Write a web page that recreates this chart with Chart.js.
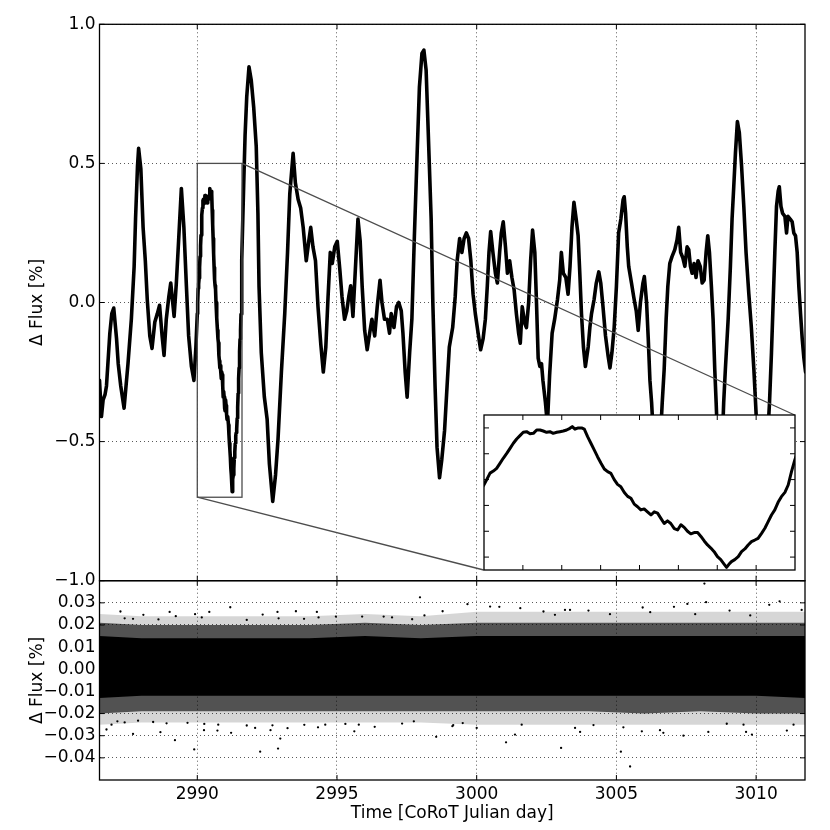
<!DOCTYPE html>
<html>
<head>
<meta charset="utf-8">
<script src="https://cdn.jsdelivr.net/npm/chart.js@4.4.1/dist/chart.umd.min.js"></script>
<style>
    body { margin: 0; background: #fff; }
    #fig { position: relative; width: 830px; height: 830px; }
    .panel { position: absolute; }
</style>
</head>
<body>
<div id="fig">
    <div class="panel" style="left:0;top:0;width:830px;height:600px"><canvas id="flux-chart"></canvas></div>
    <div class="panel" style="left:0;top:560px;width:830px;height:270px"><canvas id="resid-chart"></canvas></div>
    <div class="panel" id="inset-box"><canvas id="inset-chart"></canvas></div>
</div>
<script>
// light curve (and the inset for 2990.0 - 2991.6)
const lcDays = [
    2986.50, 2986.57, 2986.63, 2986.70, 2986.75, 2986.87, 2986.94, 2987.01, 2987.11, 2987.17,
    2987.26, 2987.38, 2987.52, 2987.64, 2987.74, 2987.79, 2987.86, 2987.90, 2987.98, 2988.06,
    2988.14, 2988.21, 2988.30, 2988.38, 2988.48, 2988.57, 2988.65, 2988.74, 2988.81, 2988.89,
    2988.98, 2989.05, 2989.17, 2989.25, 2989.33, 2989.43, 2989.52, 2989.61, 2989.69, 2989.79,
    2989.88, 2989.95,
    2990.000, 2990.014, 2990.031, 2990.048, 2990.065, 2990.082, 2990.099, 2990.117, 2990.134, 2990.151,
    2990.168, 2990.185, 2990.202, 2990.219, 2990.237, 2990.254, 2990.271, 2990.288, 2990.305, 2990.322,
    2990.339, 2990.356, 2990.374, 2990.391, 2990.408, 2990.425, 2990.442, 2990.454, 2990.468, 2990.485,
    2990.502, 2990.516, 2990.533, 2990.550, 2990.567, 2990.584, 2990.602, 2990.619, 2990.636, 2990.653,
    2990.670, 2990.687, 2990.704, 2990.722, 2990.739, 2990.756, 2990.773, 2990.790, 2990.807, 2990.824,
    2990.841, 2990.859, 2990.876, 2990.893, 2990.910, 2990.927, 2990.944, 2990.961, 2990.979, 2990.996,
    2991.013, 2991.030, 2991.047, 2991.064, 2991.081, 2991.099, 2991.116, 2991.133, 2991.150, 2991.167,
    2991.184, 2991.201, 2991.218, 2991.236, 2991.248, 2991.260, 2991.273, 2991.290, 2991.308, 2991.325,
    2991.342, 2991.359, 2991.376, 2991.393, 2991.410, 2991.428, 2991.445, 2991.462, 2991.479, 2991.496,
    2991.513, 2991.530, 2991.548, 2991.565, 2991.582, 2991.599,
    2991.66, 2991.71, 2991.77, 2991.85, 2991.93, 2992.02, 2992.11, 2992.17, 2992.21, 2992.29,
    2992.40, 2992.50, 2992.58, 2992.70, 2992.80, 2992.89, 2993.01, 2993.13, 2993.23, 2993.31,
    2993.43, 2993.51, 2993.61, 2993.70, 2993.79, 2993.90, 2993.99, 2994.06, 2994.14, 2994.23,
    2994.32, 2994.42, 2994.51, 2994.60, 2994.68, 2994.76, 2994.83, 2994.92, 2995.01, 2995.10,
    2995.18, 2995.27, 2995.35, 2995.42, 2995.49, 2995.57, 2995.65, 2995.75, 2995.83, 2995.90,
    2995.99, 2996.08, 2996.17, 2996.25, 2996.35, 2996.44, 2996.54, 2996.61, 2996.70, 2996.80,
    2996.88, 2996.94, 2997.04, 2997.13, 2997.21, 2997.30, 2997.36, 2997.44, 2997.51, 2997.60,
    2997.68, 2997.77, 2997.87, 2997.95, 2998.04, 2998.11, 2998.19, 2998.27, 2998.37, 2998.43,
    2998.51, 2998.58, 2998.67, 2998.75, 2998.85, 2998.94, 2999.02, 2999.14, 2999.23, 2999.30,
    2999.39, 2999.47, 2999.55, 2999.63, 2999.71, 2999.79, 2999.87, 2999.95, 3000.05, 3000.14,
    3000.23, 3000.31, 3000.38, 3000.44, 3000.50, 3000.58, 3000.67, 3000.74, 3000.82, 3000.88,
    3000.95, 3001.03, 3001.10, 3001.18, 3001.26, 3001.34, 3001.42, 3001.50, 3001.56, 3001.63,
    3001.72, 3001.78, 3001.86, 3001.93, 3002.00, 3002.08, 3002.14, 3002.20, 3002.26, 3002.32,
    3002.37, 3002.46, 3002.53, 3002.61, 3002.70, 3002.79, 3002.89, 3002.97, 3003.03, 3003.10,
    3003.19, 3003.27, 3003.34, 3003.41, 3003.48, 3003.56, 3003.63, 3003.69, 3003.75, 3003.82,
    3003.89, 3003.99, 3004.05, 3004.11, 3004.20, 3004.28, 3004.37, 3004.44, 3004.52, 3004.61,
    3004.70, 3004.77, 3004.84, 3004.92, 3005.00, 3005.08, 3005.16, 3005.24, 3005.28, 3005.33,
    3005.39, 3005.44, 3005.54, 3005.62, 3005.71, 3005.78, 3005.86, 3005.95, 3006.00, 3006.08,
    3006.14, 3006.20, 3006.26, 3006.36, 3006.46, 3006.56, 3006.64, 3006.71, 3006.78, 3006.84,
    3006.91, 3006.99, 3007.09, 3007.17, 3007.23, 3007.30, 3007.38, 3007.45, 3007.53, 3007.59,
    3007.65, 3007.71, 3007.78, 3007.85, 3007.92, 3008.00, 3008.07, 3008.14, 3008.21, 3008.27,
    3008.33, 3008.40, 3008.46, 3008.52, 3008.57, 3008.64, 3008.70, 3008.77, 3008.84, 3008.90,
    3009.00, 3009.08, 3009.14, 3009.20, 3009.26, 3009.33, 3009.40, 3009.48, 3009.56, 3009.64,
    3009.74, 3009.83, 3009.92, 3009.98, 3010.10, 3010.23, 3010.36, 3010.48, 3010.55, 3010.61,
    3010.67, 3010.73, 3010.79, 3010.83, 3010.89, 3010.95, 3011.03, 3011.09, 3011.14, 3011.22,
    3011.29, 3011.35, 3011.41, 3011.47, 3011.53, 3011.59, 3011.65, 3011.71, 3011.77,
];
const lcFlux = [
    -0.28, -0.41, -0.35, -0.33, -0.30, -0.11, -0.04, -0.02, -0.13, -0.22,
    -0.30, -0.38, -0.22, -0.06, 0.13, 0.30, 0.49, 0.554, 0.48, 0.27,
    0.15, 0.01, -0.12, -0.165, -0.07, -0.04, -0.01, -0.12, -0.19, -0.06,
    0.02, 0.07, -0.05, 0.07, 0.22, 0.41, 0.27, 0.06, -0.12, -0.23,
    -0.28, -0.16,
    -0.04, 0.0, 0.05, 0.066, 0.087, 0.126, 0.165, 0.203, 0.242, 0.281,
    0.314, 0.34, 0.366, 0.371, 0.355, 0.358, 0.384, 0.384, 0.376, 0.366,
    0.371, 0.358, 0.366, 0.371, 0.376, 0.384, 0.397, 0.41, 0.39, 0.40,
    0.40, 0.39, 0.332, 0.281, 0.23, 0.177, 0.126, 0.082, 0.061, 0.048,
    0.0, -0.037, -0.055, -0.10, -0.13, -0.145, -0.19, -0.21, -0.235, -0.227,
    -0.25, -0.274, -0.25, -0.26, -0.30, -0.34, -0.32, -0.34, -0.38, -0.39,
    -0.35, -0.37, -0.40, -0.42, -0.41, -0.41, -0.44, -0.475, -0.506, -0.53,
    -0.558, -0.597, -0.62, -0.656, -0.68, -0.656, -0.635, -0.62, -0.597, -0.558,
    -0.537, -0.506, -0.48, -0.468, -0.455, -0.416, -0.377, -0.326, -0.274, -0.235,
    -0.176, -0.132, -0.099, -0.042, 0.061, 0.152,
    0.42, 0.60, 0.74, 0.847, 0.80, 0.70, 0.56, 0.32, 0.057, -0.18,
    -0.34, -0.42, -0.58, -0.715, -0.62, -0.49, -0.25, -0.04, 0.18, 0.39,
    0.536, 0.43, 0.37, 0.34, 0.27, 0.15, 0.22, 0.27, 0.20, 0.15,
    -0.015, -0.15, -0.25, -0.16, 0.02, 0.18, 0.14, 0.20, 0.22, 0.12,
    0.02, -0.06, -0.03, 0.02, 0.06, -0.05, 0.105, 0.30, 0.22, 0.06,
    -0.10, -0.17, -0.11, -0.06, -0.12, -0.015, 0.08, 0.0, -0.06, -0.06,
    -0.11, -0.04, -0.09, -0.015, 0.0, -0.03, -0.11, -0.25, -0.34, -0.18,
    -0.06, 0.24, 0.54, 0.775, 0.895, 0.907, 0.835, 0.60, 0.30, 0.0,
    -0.30, -0.52, -0.63, -0.565, -0.46, -0.30, -0.16, -0.09, 0.02, 0.15,
    0.23, 0.18, 0.23, 0.25, 0.23, 0.15, 0.03, -0.04, -0.11, -0.17,
    -0.13, -0.06, 0.06, 0.18, 0.255, 0.18, 0.105, 0.07, 0.18, 0.25,
    0.29, 0.20, 0.105, 0.15, 0.09, 0.045, -0.04, -0.11, -0.146, -0.015,
    -0.075, -0.09, 0.0, 0.15, 0.26, 0.18, 0.0, -0.20, -0.23, -0.22,
    -0.28, -0.36, -0.44, -0.26, -0.11, -0.06, 0.01, 0.08, 0.18, 0.105,
    0.09, 0.03, 0.13, 0.27, 0.36, 0.30, 0.24, 0.105, -0.04, -0.16,
    -0.23, -0.16, -0.09, -0.04, 0.01, 0.07, 0.11, 0.07, -0.015, -0.12,
    -0.19, -0.235, -0.18, -0.09, 0.057, 0.25, 0.30, 0.37, 0.38, 0.32,
    0.20, 0.13, 0.07, 0.02, -0.03, -0.10, 0.0, 0.07, 0.093, 0.0,
    -0.13, -0.28, -0.36, -0.55, -0.62, -0.52, -0.36, -0.24, -0.06, 0.057,
    0.14, 0.165, 0.19, 0.225, 0.27, 0.18, 0.16, 0.13, 0.20, 0.19,
    0.13, 0.105, 0.14, 0.09, 0.15, 0.13, 0.07, 0.08, 0.18, 0.24,
    0.18, 0.057, -0.06, -0.24, -0.36, -0.55, -0.62, -0.55, -0.36, -0.24,
    -0.06, 0.13, 0.30, 0.416, 0.536, 0.65, 0.61, 0.49, 0.345, 0.18,
    0.03, -0.09, -0.24, -0.36, -0.60, -0.68, -0.58, -0.36, -0.18, 0.0,
    0.18, 0.345, 0.40, 0.416, 0.345, 0.32, 0.31, 0.25, 0.31, 0.30,
    0.29, 0.25, 0.24, 0.18, 0.057, -0.04, -0.13, -0.20, -0.25,
];

// residual band: solid core, dense fringe and sparse fringe edges
const resDays = [2986.5, 2988, 2990, 2992, 2994, 2996, 2998, 3000, 3002, 3004, 3006, 3008, 3010, 3011.75];
const coreHigh = [0.015, 0.014, 0.014, 0.014, 0.014, 0.015, 0.014, 0.015, 0.015, 0.015, 0.015, 0.015, 0.015, 0.015];
const coreLow = [-0.013, -0.012, -0.012, -0.012, -0.012, -0.012, -0.012, -0.012, -0.012, -0.012, -0.012, -0.012, -0.012, -0.013];
const midHigh = [0.021, 0.020, 0.020, 0.020, 0.020, 0.021, 0.020, 0.021, 0.021, 0.021, 0.021, 0.021, 0.021, 0.021];
const midLow = [-0.020, -0.019, -0.019, -0.019, -0.019, -0.019, -0.019, -0.019, -0.019, -0.019, -0.020, -0.019, -0.020, -0.020];
const outerHigh = [0.025, 0.024, 0.024, 0.024, 0.024, 0.025, 0.024, 0.026, 0.026, 0.026, 0.026, 0.026, 0.026, 0.026];
const outerLow = [-0.025, -0.024, -0.024, -0.024, -0.024, -0.024, -0.024, -0.025, -0.025, -0.025, -0.025, -0.025, -0.025, -0.025];

// scattered residual points outside the band
const outDays = [
    2987.25, 2988.07, 2989.01, 2989.23, 2989.92, 2990.43, 2991.18, 2992.34, 2992.87, 2993.53,
    2994.28, 2997.97, 2998.13, 2998.78, 2987.40, 2987.70, 2988.61, 2990.16, 2991.77, 2992.91,
    2993.82, 2994.34, 2994.96, 2995.90, 2996.67, 2996.97, 2997.69,
    2986.75, 2986.93, 2987.14, 2987.40, 2987.70, 2987.88, 2988.42, 2988.68, 2988.90, 2989.20,
    2989.65, 2989.89, 2990.24, 2990.25, 2990.72, 2990.75, 2991.21, 2991.77, 2992.07, 2992.25,
    2992.62, 2992.69, 2992.89, 2992.97, 2993.23, 2993.83, 2994.32, 2994.58, 2995.30, 2995.62,
    2995.78, 2996.35, 2997.33, 2997.75, 2998.55, 2999.13,
    2999.67, 3008.15, 3008.21, 3010.84, 3010.47, 3007.54, 3000.81, 3000.48, 3001.56, 3003.16,
    3003.34, 3004.00, 3005.94, 3006.21, 3007.06, 3009.05, 3011.63, 3002.39, 3002.80, 3004.77,
    3007.82, 3009.79,
    2999.16, 2999.50, 3000.00, 3001.05, 3001.37, 3001.61, 3003.02, 3003.52, 3003.70, 3004.18,
    3005.16, 3005.49, 3005.25, 3005.91, 3006.56, 3006.68, 3007.40, 3008.29, 3008.95, 3009.64,
    3009.85, 3011.10, 3011.34, 3009.55,
];
const outVals = [
    0.0261, 0.0246, 0.0259, 0.0240, 0.0249, 0.0259, 0.0280, 0.0247, 0.0259, 0.0262,
    0.0259, 0.0325, 0.0243, 0.0262, 0.0230, 0.0228, 0.0225, 0.0234, 0.0223, 0.0230,
    0.0228, 0.0234, 0.0238, 0.0238, 0.0238, 0.0234, 0.0226,
    -0.0272, -0.0250, -0.0235, -0.0240, -0.0292, -0.0232, -0.0238, -0.0284, -0.0244, -0.0320,
    -0.0242, -0.0362, -0.0275, -0.0247, -0.0277, -0.0250, -0.0287, -0.0254, -0.0265, -0.0372,
    -0.0275, -0.0253, -0.0358, -0.0313, -0.0266, -0.0251, -0.0262, -0.0250, -0.0247, -0.0280,
    -0.0250, -0.0260, -0.0245, -0.0235, -0.0305, -0.0257,
    0.0294, 0.0387, 0.0303, 0.0307, 0.0291, 0.0295, 0.0282, 0.0283, 0.0276, 0.0268,
    0.0268, 0.0265, 0.0279, 0.0258, 0.0282, 0.0265, 0.0268, 0.0261, 0.0246, 0.0249,
    0.0249, 0.0243,
    -0.0252, -0.0243, -0.0265, -0.0330, -0.0295, -0.0250, -0.0355, -0.0265, -0.0283, -0.0252,
    -0.0372, -0.0439, -0.0262, -0.0280, -0.0275, -0.0287, -0.0300, -0.0283, -0.0246, -0.0283,
    -0.0295, -0.0277, -0.0250, -0.0250,
];

const dayTicks = [2990, 2995, 3000, 3005, 3010];
const fluxTicks = [-1.0, -0.5, 0.0, 0.5, 1.0];
const residTicks = [-0.04, -0.03, -0.02, -0.01, 0.0, 0.01, 0.02, 0.03];
const zoomDays = [2990.0, 2991.6];
const zoomFlux = [-0.7, 0.5];
const insetDayTicks = [2990.2, 2990.4, 2990.6, 2990.8, 2991.0, 2991.2, 2991.4];
const insetFluxTicks = [-0.6, -0.4, -0.2, 0.0, 0.2, 0.4];

const DAY_RANGE = [2986.5, 3011.75];
const INSET = { left: 483.7, top: 415, right: 794.7, bottom: 570 };
const TICK_LEN = 5;
const GRID = { color: "rgba(0,0,0,0.65)", lineWidth: 1, drawTicks: false };
const GRID_BORDER = { display: false, dash: [1, 3] };

Chart.defaults.font.family = "'DejaVu Sans', sans-serif";
Chart.defaults.font.size = 17;
Chart.defaults.color = "#000";
Chart.defaults.animation = false;

const pts = (xs, ys) => xs.map((x, i) => ({ x: x, y: ys[i] }));
const minus = (s) => s.replace("-", "\u2212");
const fmt = (digits) => (v) => minus((Math.abs(v) < 1e-9 ? 0 : v).toFixed(digits));
const setTicks = (values) => (scale) => {
    scale.ticks = values.map((v) => ({ value: v }));
};

// black frame plus inward ticks on all four sides
function frameTicks(xt, yt) {
    return {
        id: "frameTicks",
        afterDraw(chart) {
            const { ctx, chartArea: a } = chart;
            const { x, y } = chart.scales;
            ctx.save();
            ctx.strokeStyle = "#000";
            ctx.lineWidth = 1;
            ctx.beginPath();
            xt.forEach((v) => {
                const px = x.getPixelForValue(v);
                ctx.moveTo(px, a.bottom);
                ctx.lineTo(px, a.bottom - TICK_LEN);
                ctx.moveTo(px, a.top);
                ctx.lineTo(px, a.top + TICK_LEN);
            });
            yt.forEach((v) => {
                const py = y.getPixelForValue(v);
                ctx.moveTo(a.left, py);
                ctx.lineTo(a.left + TICK_LEN, py);
                ctx.moveTo(a.right, py);
                ctx.lineTo(a.right - TICK_LEN, py);
            });
            ctx.stroke();
            ctx.lineWidth = 1.3;
            ctx.strokeRect(a.left, a.top, a.right - a.left, a.bottom - a.top);
            ctx.restore();
        },
    };
}

// rectangle round the zoomed range, joined to the inset corners
const zoomLinks = {
    id: "zoomLinks",
    afterDatasetsDraw(chart) {
        const { ctx } = chart;
        const { x, y } = chart.scales;
        const x0 = x.getPixelForValue(zoomDays[0]);
        const x1 = x.getPixelForValue(zoomDays[1]);
        const y0 = y.getPixelForValue(zoomFlux[0]);
        const y1 = y.getPixelForValue(zoomFlux[1]);
        ctx.save();
        ctx.strokeStyle = "#4d4d4d";
        ctx.lineWidth = 1.3;
        ctx.strokeRect(x0, y1, x1 - x0, y0 - y1);
        ctx.beginPath();
        ctx.moveTo(x1, y1);
        ctx.lineTo(INSET.right, INSET.top);
        ctx.moveTo(x0, y0);
        ctx.lineTo(INSET.left, INSET.bottom);
        ctx.stroke();
        ctx.restore();
    },
};

const whiteArea = {
    id: "whiteArea",
    beforeDraw(chart) {
        const { ctx, chartArea: a } = chart;
        ctx.save();
        ctx.fillStyle = "#fff";
        ctx.fillRect(a.left, a.top, a.right - a.left, a.bottom - a.top);
        ctx.restore();
    },
};

function yTitle() {
    return { display: true, text: "\u0394 Flux [%]", padding: { top: 27, bottom: 0 } };
}

new Chart(document.getElementById("flux-chart"), {
    type: "line",
    data: {
        datasets: [{
            data: pts(lcDays, lcFlux),
            borderColor: "#000",
            borderWidth: 3.6,
            borderJoinStyle: "round",
            borderCapStyle: "round",
            pointRadius: 0,
        }],
    },
    options: {
        responsive: true,
        maintainAspectRatio: false,
        layout: { padding: { top: 24.3, right: 25, bottom: 19.3, left: 0 } },
        plugins: { legend: { display: false }, tooltip: { enabled: false } },
        scales: {
            x: {
                type: "linear",
                min: DAY_RANGE[0],
                max: DAY_RANGE[1],
                afterBuildTicks: setTicks(dayTicks),
                afterFit: (s) => { s.height = 0; },
                ticks: { display: false },
                grid: GRID,
                border: GRID_BORDER,
            },
            y: {
                min: -1,
                max: 1,
                afterBuildTicks: setTicks(fluxTicks),
                afterFit: (s) => { s.width = 99.5; },
                ticks: { autoSkip: false, padding: 4, callback: fmt(1) },
                grid: GRID,
                border: GRID_BORDER,
                title: yTitle(),
            },
        },
    },
    plugins: [zoomLinks, frameTicks(dayTicks, fluxTicks)],
});

const band = (ys, fill, color) => ({
    data: pts(resDays, ys),
    borderWidth: 0,
    pointRadius: 0,
    fill: fill,
    backgroundColor: color,
});

new Chart(document.getElementById("resid-chart"), {
    type: "line",
    data: {
        datasets: [
            band(outerLow, false, "transparent"),
            band(outerHigh, "-1", "rgba(0,0,0,0.16)"),
            band(midLow, false, "transparent"),
            band(midHigh, "-1", "rgba(0,0,0,0.62)"),
            band(coreLow, false, "transparent"),
            band(coreHigh, "-1", "#000"),
            {
                data: pts(outDays, outVals),
                showLine: false,
                pointRadius: 1.15,
                pointBorderWidth: 0,
                pointBackgroundColor: "#000",
            },
        ],
    },
    options: {
        responsive: true,
        maintainAspectRatio: false,
        layout: { padding: { top: 20.7, right: 25, bottom: 0, left: 0 } },
        plugins: { legend: { display: false }, tooltip: { enabled: false } },
        scales: {
            x: {
                type: "linear",
                min: DAY_RANGE[0],
                max: DAY_RANGE[1],
                afterBuildTicks: setTicks(dayTicks),
                afterFit: (s) => { s.height = 50; },
                ticks: { autoSkip: false, maxRotation: 0, padding: 4, callback: (v) => String(v) },
                grid: GRID,
                border: GRID_BORDER,
                title: { display: true, text: "Time [CoRoT Julian day]", padding: { top: 0, bottom: 6 } },
            },
            y: {
                min: -0.05,
                max: 0.04,
                afterBuildTicks: setTicks(residTicks),
                afterFit: (s) => { s.width = 99.5; },
                ticks: { autoSkip: false, padding: 4, callback: fmt(2) },
                grid: GRID,
                border: GRID_BORDER,
                title: yTitle(),
            },
        },
    },
    plugins: [frameTicks(dayTicks, residTicks)],
});

const PAD = 6;
const insetBox = document.getElementById("inset-box");
insetBox.style.left = (INSET.left - PAD) + "px";
insetBox.style.top = (INSET.top - PAD) + "px";
insetBox.style.width = (INSET.right - INSET.left + 2 * PAD) + "px";
insetBox.style.height = (INSET.bottom - INSET.top + 2 * PAD) + "px";

new Chart(document.getElementById("inset-chart"), {
    type: "line",
    data: {
        datasets: [{
            data: pts(lcDays, lcFlux),
            borderColor: "#000",
            borderWidth: 3,
            borderJoinStyle: "round",
            borderCapStyle: "round",
            pointRadius: 0,
        }],
    },
    options: {
        responsive: true,
        maintainAspectRatio: false,
        layout: { padding: PAD },
        plugins: { legend: { display: false }, tooltip: { enabled: false } },
        scales: {
            x: { type: "linear", display: false, min: zoomDays[0], max: zoomDays[1] },
            y: { display: false, min: zoomFlux[0], max: zoomFlux[1] },
        },
    },
    plugins: [whiteArea, frameTicks(insetDayTicks, insetFluxTicks)],
});
</script>
</body>
</html>
